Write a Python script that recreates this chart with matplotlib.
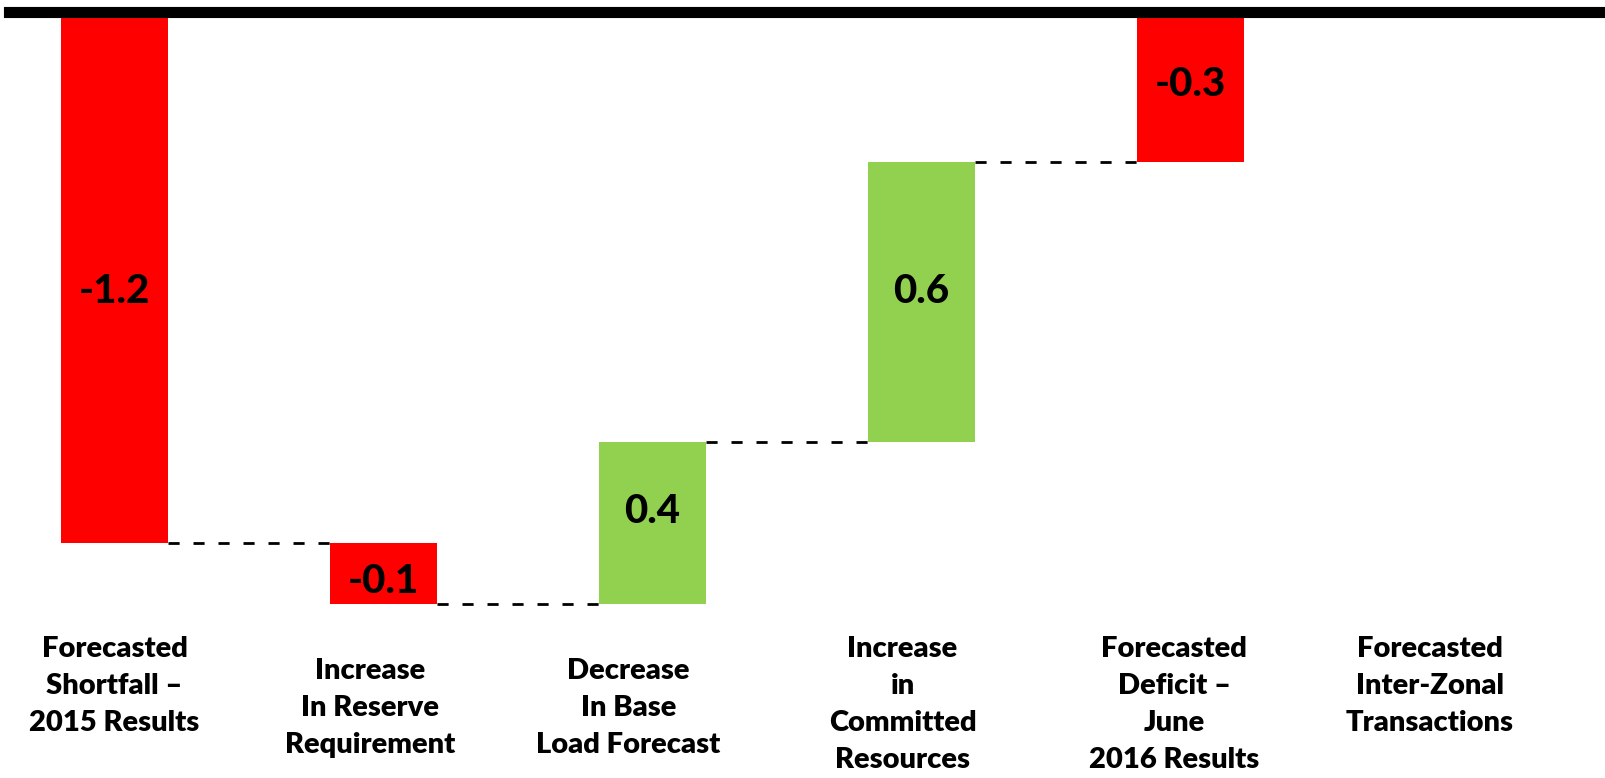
import matplotlib.pyplot as plt

# waterfall data (values in GW-ish units)
steps = ["Forecasted\nShortfall \u2013\n2015 Results",
         "Increase\nIn Reserve\nRequirement",
         "Decrease\nIn Base\nLoad Forecast",
         "Increase\nin\nCommitted\nResources",
         "Forecasted\nDeficit \u2013\nJune\n2016 Results",
         "Forecasted\nInter-Zonal\nTransactions"]
changes = [-1.2, -0.14, 0.37, 0.64, -0.33]
# the first and the fifth bars start from zero (totals)
is_total = [True, False, False, False, True]

# label placement tweaks (offset from bar slot, top of text)
label_shift = [0.0, -0.05, -0.09, -0.07, -0.06, -0.11]
label_top = [-1.412, -1.462, -1.462, -1.412, -1.412, -1.412]
value_dy = [-0.026, -0.019, 0.026, 0.026, 0.014]

RED = "#FF0000"
GREEN = "#92D050"

plt.rcParams['font.family'] = ['Lato', 'DejaVu Sans']

fig = plt.figure(figsize=(16.06, 7.78), dpi=100)
ax = fig.add_axes([0, 0, 1, 1])
ax.set_xlim(-0.4257, 5.545)
ax.set_ylim(-1.737, 0.0411)
ax.axis("off")

level = 0.0
tops = []
for i, v in enumerate(changes):
    start = 0.0 if is_total[i] else level
    end = start + v
    color = GREEN if v > 0 else RED
    ax.bar(i, end - start, bottom=start, width=0.4, color=color, linewidth=0)
    ax.text(i, (start + end) / 2 + value_dy[i], f"{v:.1f}", ha="center",
            va="center", fontsize=29, fontweight="black", color="black")
    tops.append(end)
    level = end

# dashed connectors between consecutive bars
for i in range(len(changes) - 1):
    ax.plot([i + 0.2, i + 0.8], [tops[i], tops[i]], color="black", lw=2,
            linestyle=(0, (4, 5)))

# thick black axis line at the top
ax.axhline(0.0126, xmin=9 / 1606, xmax=1, color="black", lw=8)

for i, lab in enumerate(steps):
    ax.text(i + label_shift[i], label_top[i], lab, ha="center", va="top",
            fontsize=21, fontweight="heavy", linespacing=1.52,
            multialignment="center")

fig.savefig("out.png", dpi=100)
